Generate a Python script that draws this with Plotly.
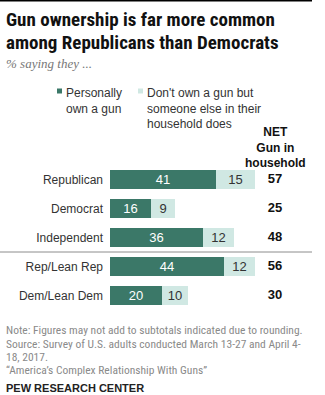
import plotly.graph_objects as go

categories = ["Republican", "Democrat", "Independent", "Rep/Lean Rep", "Dem/Lean Dem"]
personally_own = [41, 16, 36, 44, 20]
someone_else = [15, 9, 12, 12, 10]
net_gun = [57, 25, 48, 56, 30]
legend_labels = ["Personally<br>own a gun", "Don't own a gun but<br>someone else in their<br>household does"]

W, H = 325, 395
DARK = "#3b7868"
LIGHT = "#d0e8e3"
FONT = "Liberation Sans, Arial, sans-serif"
NARROW = "Roboto Condensed, Liberation Sans, sans-serif"

X0 = 110  # pixel start of bars
PX_PER_UNIT = 2.59
XR = (W - X0) / PX_PER_UNIT
ypos = list(range(len(categories)))

def px_y(p):
    return 1 - p / H

def px_x(p):
    return p / W

fig = go.Figure()
fig.add_trace(go.Bar(
    y=ypos, x=personally_own, orientation="h", marker=dict(color=DARK, line=dict(width=0)),
    text=[str(v) for v in personally_own], textposition="inside", insidetextanchor="middle",
    textangle=0, textfont=dict(color="white", size=13, family=FONT), width=0.65, showlegend=False,
    constraintext="none", cliponaxis=False))
fig.add_trace(go.Bar(
    y=ypos, x=someone_else, orientation="h", marker=dict(color=LIGHT, line=dict(width=0)),
    text=[str(v) for v in someone_else], textposition="inside", insidetextanchor="middle",
    textangle=0, textfont=dict(color="#333333", size=13, family=FONT), width=0.65, showlegend=False,
    constraintext="none", cliponaxis=False))

# NET column
net_x = (275 - X0) / PX_PER_UNIT
fig.add_trace(go.Scatter(
    y=ypos, x=[net_x] * len(net_gun), mode="text", text=[f"<b>{v}</b>" for v in net_gun],
    textfont=dict(color="#111111", size=13, family=FONT), showlegend=False, cliponaxis=False))

fig.update_layout(
    width=W, height=H, margin=dict(l=0, r=0, t=0, b=0),
    paper_bgcolor="white", plot_bgcolor="white", barmode="stack", bargap=0,
    xaxis=dict(domain=[px_x(X0), 1], range=[0, XR], visible=False, fixedrange=True),
    yaxis=dict(domain=[px_y(310), px_y(165)], range=[4.5, -0.5], tickmode="array",
               tickvals=ypos, ticktext=categories, showgrid=False, zeroline=False,
               showline=False, ticks="", ticklabelstandoff=6,
               tickfont=dict(size=12, color="#333333", family=FONT), fixedrange=True),
    font=dict(family=FONT),
)

shapes = [
    dict(type="line", xref="paper", yref="paper", x0=0, x1=px_x(312), y0=px_y(0.8), y1=px_y(0.8),
         line=dict(color="#000000", width=1.5)),
    dict(type="line", xref="paper", yref="y", x0=0, x1=px_x(312), y0=2.5, y1=2.5,
         line=dict(color="#8c8c8c", width=1)),
    dict(type="rect", xref="paper", yref="paper", x0=px_x(57), x1=px_x(62), y0=px_y(93.5), y1=px_y(88.5),
         fillcolor=DARK, line=dict(width=0)),
    dict(type="rect", xref="paper", yref="paper", x0=px_x(138), x1=px_x(143), y0=px_y(93.5), y1=px_y(88.5),
         fillcolor=LIGHT, line=dict(width=0)),
]
fig.update_layout(shapes=shapes)

ann = []
def add_text(x, y, text, size, color, anchor="left", yanchor="middle", family=FONT, align="left"):
    ann.append(dict(xref="paper", yref="paper", x=px_x(x), y=px_y(y), text=text, showarrow=False,
                    xanchor=anchor, yanchor=yanchor, align=align,
                    font=dict(size=size, color=color, family=family)))

add_text(4, 19, "<b>Gun ownership is far more common</b>", 19, "#111111", family=NARROW)
add_text(4, 42, "<b>among Republicans than Democrats</b>", 19, "#111111", family=NARROW)
add_text(4, 64, "<i>% saying they ...</i>", 13, "#777777", family="Liberation Serif, DejaVu Serif, serif")

# Legend text
ann.append(dict(xref="paper", yref="paper", x=px_x(63.5), y=px_y(84), text=legend_labels[0], showarrow=False,
                xanchor="left", yanchor="top", align="left",
                font=dict(size=12, color="#333333", family=FONT)))
ann.append(dict(xref="paper", yref="paper", x=px_x(144.5), y=px_y(84), text=legend_labels[1], showarrow=False,
                xanchor="left", yanchor="top", align="left",
                font=dict(size=12, color="#333333", family=FONT)))

# NET header
ann.append(dict(xref="paper", yref="paper", x=px_x(275), y=px_y(123), text="<b>NET<br>Gun in<br>household</b>",
                showarrow=False, xanchor="center", yanchor="top", align="center",
                font=dict(size=12, color="#111111", family=FONT)))

note_color = "#8a8a8a"
add_text(4, 330, "Note: Figures may not add to subtotals indicated due to rounding.", 11.5, note_color, family=NARROW)
add_text(4, 343.5, "Source: Survey of U.S. adults conducted March 13-27 and April 4-", 11.5, note_color, family=NARROW)
add_text(4, 356.5, "18, 2017.", 11.5, note_color, family=NARROW)
add_text(4, 369.5, "\u201cAmerica\u2019s Complex Relationship With Guns\u201d", 11.5, note_color, family=NARROW)
add_text(4, 388, "<b>PEW RESEARCH CENTER</b>", 11, "#222222")

fig.update_layout(annotations=ann)
fig.write_html("out.html")
